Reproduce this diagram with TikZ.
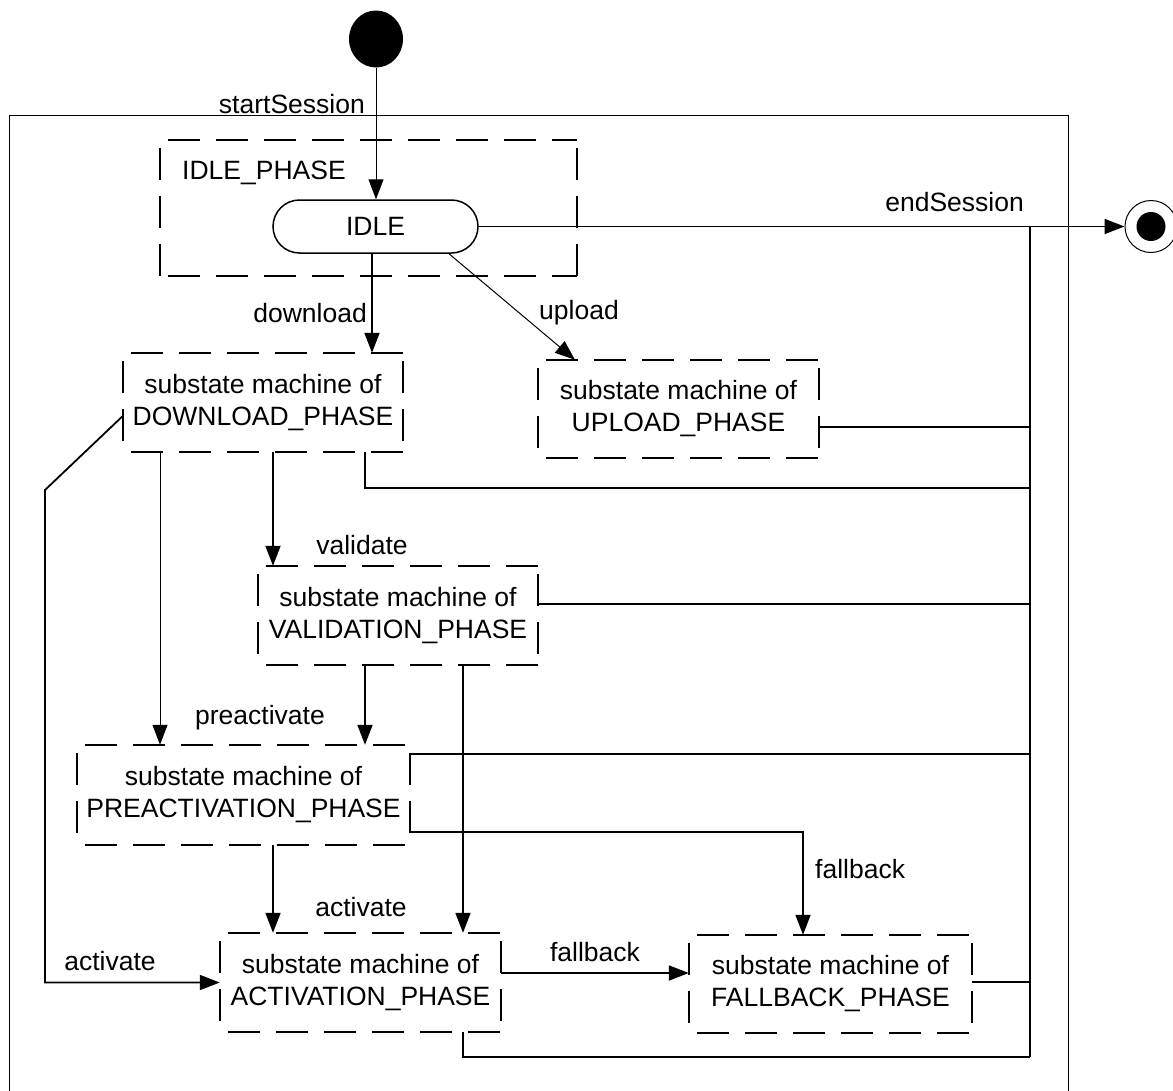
\documentclass[tikz,border=0pt]{standalone}
\usepackage{fontspec}
\setmainfont{Liberation Sans}
\usetikzlibrary{arrows.meta,shapes.geometric}
\begin{document}
\begin{tikzpicture}[x=1pt,y=-1pt,
  thinln/.style={line width=1pt},
  thickln/.style={line width=1.8pt},
  arr/.style={-{Triangle[length=20pt,width=15pt]}},
  lbl/.style={inner sep=0pt, font=\fontsize{26.5}{32}\selectfont},
  smbox/.style={inner sep=0pt, align=center, font=\fontsize{26.5}{32}\selectfont},
  dside/.style={line width=1.8pt, dash pattern=on 32pt off 16pt, dash phase=40pt},
]
\useasboundingbox (0,0) rectangle (1173,1090);

% outer frame
\draw[thinln] (9,1095) -- (9,115) -- (1068,115) -- (1068,1095);

% states
\node[ellipse, fill=black, minimum width=54pt, minimum height=57pt, inner sep=0pt] (init) at (376,39) {};
\node[circle, draw, line width=1pt, minimum size=52pt, inner sep=0pt] (fin) at (1151,226.5) {};
\node[circle, fill=black, minimum size=29pt, inner sep=0pt] (finin) at (fin) {};

\node[smbox, minimum width=417pt, minimum height=136pt] (idlep) at (368.5,208) {};
\node[lbl, anchor=west] (idlepl) at (182,173) {IDLE\_PHASE};
\node[lbl, draw, line width=1.5pt, rounded corners=26.5pt, minimum width=205pt, minimum height=53pt] (idle) at (375.5,226.5) {IDLE};

\node[smbox, minimum width=280pt, minimum height=99pt] (dl) at (263,402.5) {substate machine of\\DOWNLOAD\_PHASE};
\node[smbox, minimum width=281pt, minimum height=98pt] (ul) at (678.5,409) {substate machine of\\UPLOAD\_PHASE};
\node[smbox, minimum width=280pt, minimum height=99pt] (val) at (398,615.5) {substate machine of\\VALIDATION\_PHASE};
\node[smbox, minimum width=333pt, minimum height=100pt] (pre) at (243.5,795) {substate machine of\\PREACTIVATION\_PHASE};
\node[smbox, minimum width=281pt, minimum height=99pt] (act) at (360.5,982.5) {substate machine of\\ACTIVATION\_PHASE};
\node[smbox, minimum width=283pt, minimum height=98pt] (fb) at (830.5,984) {substate machine of\\FALLBACK\_PHASE};

\foreach \n in {idlep,dl,ul,val,pre,act,fb} {
  \draw[dside] (\n.north west) -- (\n.north east);
  \draw[dside] (\n.north east) -- (\n.south east);
  \draw[dside] (\n.south west) -- (\n.south east);
  \draw[dside] (\n.north west) -- (\n.south west);
}

% helper coordinates
\coordinate (x160) at (160,0);
\coordinate (x273) at (273,0);
\coordinate (x365) at (365,0);
\coordinate (x372) at (372,0);
\coordinate (x449) at (449,0);
\coordinate (x463) at (463,0);
\coordinate (x575) at (575,0);
\coordinate (x803) at (803,0);
\coordinate (jx) at (1030,0);
\coordinate (y416) at (0,416);
\coordinate (y427) at (0,427);
\coordinate (y488) at (0,488);
\coordinate (y604) at (0,604);
\coordinate (y754) at (0,754);
\coordinate (y832) at (0,832);
\coordinate (y973) at (0,973);
\coordinate (y982) at (0,982);
\coordinate (k1) at (45,490);
\coordinate (jtop) at (1030,226.5);
\coordinate (jbot) at (1030,1057);

% connectors
\draw[thinln, arr] (init.south) -- (idle.north -| init.south);
\draw[thickln, arr] (idle.east) -- (fin.west);
\draw[thickln] (jtop) -- (jbot);
\draw[thickln, arr] (idle.south -| x372) -- (dl.north -| x372);
\draw[thinln, arr] (idle.south -| x449) -- (ul.north -| x575);
\draw[thickln] (ul.east |- y427) -- (jx |- y427);
\draw[thinln, arr] (dl.south -| x160) -- (pre.north -| x160);
\draw[thickln, arr] (dl.south -| x273) -- (val.north -| x273);
\draw[thickln] (dl.south -| x365) |- (jx |- y488);
\draw[thickln, arr] (dl.west |- y416) -- (k1) |- (act.west);
\draw[thickln] (val.east |- y604) -- (jx |- y604);
\draw[thickln, arr] (val.south -| x365) -- (pre.north -| x365);
\draw[thickln, arr] (val.south -| x463) -- (act.north -| x463);
\draw[thickln] (pre.east |- y754) -- (jx |- y754);
\draw[thickln, arr] (pre.east |- y832) -| (fb.north -| x803);
\draw[thickln, arr] (pre.south -| x273) -- (act.north -| x273);
\draw[thickln, arr] (act.east |- y973) -- (fb.west |- y973);
\draw[thickln] (fb.east |- y982) -- (jx |- y982);
\draw[thickln] (act.south -| x463) |- (jbot);

% labels
\node[lbl, anchor=east] (lss) at (365,104) {startSession};
\node[lbl, anchor=east] (les) at (1024,202) {endSession};
\node[lbl, anchor=east] (ldl) at (367,313) {download};
\node[lbl, anchor=west] (lul) at (539,313) {upload};
\node[lbl] (lval) at (362,545) {validate};
\node[lbl] (lpre) at (260,718) {preactivate};
\node[lbl] (lact) at (361,907) {activate};
\node[lbl, anchor=west] (lfb1) at (815,869) {fallback};
\node[lbl] (lfb2) at (595,952) {fallback};
\node[lbl] (lact2) at (110,961) {activate};
\end{tikzpicture}
\end{document}
